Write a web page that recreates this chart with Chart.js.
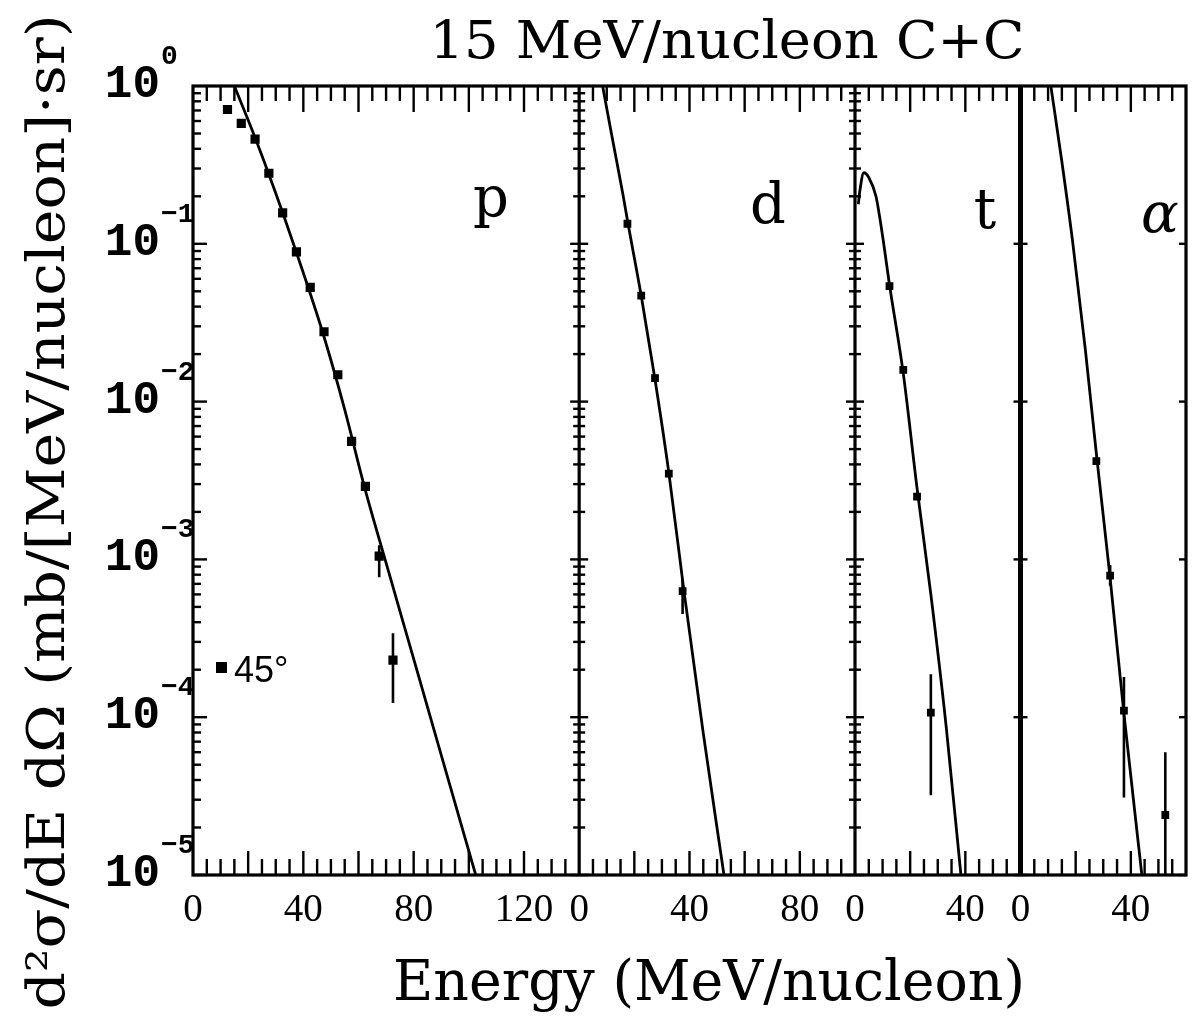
<!DOCTYPE html>
<html>
<head>
<meta charset="utf-8"/>
<title>15 MeV/nucleon C+C</title>
<script src="https://cdn.jsdelivr.net/npm/chart.js@4.4.1/dist/chart.umd.min.js"></script>
<style>
  html, body { margin: 0; padding: 0; background: #fff; }
  #chart { display: block; }
</style>
</head>
<body>
<canvas id="chart" width="1204" height="1024"></canvas>
<script>
// values: E in MeV/nucleon, y in mb/[MeV/nucleon]/sr

// protons
var pE = [12.5, 17.5, 22.5, 27.5, 32.5, 37.5, 42.5, 47.5, 52.5, 57.5, 62.5, 67.5, 72.5];
var pV = [0.71, 0.58, 0.46, 0.28, 0.157, 0.089, 0.053, 0.0277, 0.0148, 0.0056, 0.0029, 0.00105, 0.00023];
var pErrE = [67.5, 72.5];
var pErrLo = [7.7e-4, 1.23e-4];
var pErrHi = [1.23e-3, 3.4e-4];
var pFitE = [15, 22.8, 30, 37.4, 47, 55, 62, 70, 80, 90, 102.5];
var pFitV = [1.0, 0.457, 0.209, 0.089, 0.0275, 0.0089, 0.00295, 9.5e-4, 2.34e-4, 5.75e-5, 1e-5];

// deuterons
var dE = [17.5, 22.5, 27.5, 32.5, 37.5];
var dV = [0.134, 0.047, 0.0141, 0.0035, 6.3e-4];
var dErrE = [37.5];
var dErrLo = [4.5e-4];
var dErrHi = [7.4e-4];
var dFitE = [8.5, 12, 15.9, 17.5, 22.5, 27.5, 32.5, 38, 45, 52.5];
var dFitV = [1.0, 0.468, 0.204, 0.141, 0.0468, 0.0138, 0.00355, 6.3e-4, 7.9e-5, 1e-5];

// tritons
var tE = [12.5, 17.5, 22.5, 27.5];
var tV = [0.054, 0.0159, 0.0025, 1.07e-4];
var tErrE = [27.5];
var tErrLo = [3.2e-5];
var tErrHi = [1.87e-4];
var tFitE = [1.2, 1.8, 3.2, 5, 7.6, 10, 12.5, 17.5, 22.5, 27.5, 33, 38.4];
var tFitV = [0.178, 0.219, 0.282, 0.263, 0.2, 0.112, 0.055, 0.0151, 0.00282, 6.0e-4, 8.9e-5, 1e-5];

// alphas
var aE = [27.5, 32.5, 37.5, 52.5];
var aV = [0.0042, 7.9e-4, 1.1e-4, 2.4e-5];
var aErrE = [32.5, 37.5, 52.5];
var aErrLo = [6.8e-4, 3.1e-5, 5e-6];
var aErrHi = [9.2e-4, 1.8e-4, 6e-5];
var aFitE = [11, 15, 19, 23.5, 27.5, 32.5, 37.5, 44];
var aFitV = [1.0, 0.331, 0.1, 0.0214, 0.00468, 7.6e-4, 1.05e-4, 1e-5];

// axes
var panelIds = ['xp', 'xd', 'xt', 'xa'];
var panelMax = [140, 100, 60, 60];
var panelTickLabels = [[0, 40, 80, 120], [0, 40, 80], [0, 40], [0, 40]];
var panelNames = ['p', 'd', 't', 'α'];
var yExponents = [0, -1, -2, -3, -4, -5];

function pts(E, V) {
  return E.map(function(e, i) { return {x: e, y: V[i]}; });
}

var datasets = [];
function addPanel(id, fitE, fitV, E, V, errE, errLo, errHi, r) {
  datasets.push({
    xAxisID: id, yAxisID: 'y', data: pts(fitE, fitV), showLine: true,
    pointRadius: 0, borderColor: '#000', borderWidth: 2.8, cubicInterpolationMode: 'monotone'
  });
  errE.forEach(function(e, i) {
    datasets.push({
      xAxisID: id, yAxisID: 'y', data: [{x: e, y: errLo[i]}, {x: e, y: errHi[i]}],
      showLine: true, pointRadius: 0, borderColor: '#000', borderWidth: 2.6
    });
  });
  datasets.push({
    xAxisID: id, yAxisID: 'y', data: pts(E, V), showLine: false,
    pointStyle: 'rect', pointRadius: r, backgroundColor: '#000', borderWidth: 0
  });
}
addPanel('xp', pFitE, pFitV, pE, pV, pErrE, pErrLo, pErrHi, 6.5);
addPanel('xd', dFitE, dFitV, dE, dV, dErrE, dErrLo, dErrHi, 5.5);
addPanel('xt', tFitE, tFitV, tE, tV, tErrE, tErrLo, tErrHi, 5.5);
addPanel('xa', aFitE, aFitV, aE, aV, aErrE, aErrLo, aErrHi, 5.5);

var scales = {};
panelIds.forEach(function(id, i) {
  scales[id] = {
    type: 'linear', position: 'bottom', min: 0, max: panelMax[i],
    stack: 'energy', stackWeight: panelMax[i],
    grid: {display: false, drawTicks: false}, border: {display: false},
    afterFit: function(s) { s.height = 60; },
    afterBuildTicks: function(s) {
      s.ticks = panelTickLabels[i].map(function(v) { return {value: v}; });
    },
    ticks: {
      autoSkip: false, maxRotation: 0, padding: 12,
      color: '#000', font: {family: 'Liberation Serif', size: 39},
      callback: function(v) { return String(v); }
    }
  };
});
scales.y = {
  type: 'logarithmic', position: 'left', min: 1e-5, max: 1,
  grid: {display: false}, border: {display: false}, ticks: {display: false},
  afterFit: function(s) { s.width = 0; }
};

function fitText(ctx, text, x, y, w, font, rot) {
  ctx.save();
  ctx.font = font;
  var m = ctx.measureText(text).width;
  ctx.translate(x, y);
  if (rot) ctx.rotate(rot);
  ctx.scale(w / m, 1);
  ctx.textAlign = 'center';
  ctx.textBaseline = 'alphabetic';
  ctx.fillText(text, 0, 0);
  ctx.restore();
}

function yTicks(ctx, y, x, left, right, big, small, decadeOnly) {
  for (var k = -5; k < 0; k++) {
    for (var m = 1; m <= 9; m++) {
      if (m > 1 && decadeOnly) continue;
      var py = y.getPixelForValue(m * Math.pow(10, k));
      var len = m === 1 ? big : small;
      ctx.beginPath();
      ctx.moveTo(x - len * left, py);
      ctx.lineTo(x + len * right, py);
      ctx.stroke();
    }
  }
}

var frame = {
  id: 'frame',
  afterDraw: function(chart) {
    var ctx = chart.ctx, a = chart.chartArea, y = chart.scales.y;
    ctx.save();
    ctx.strokeStyle = '#000';
    ctx.fillStyle = '#000';

    // energy ticks, pointing inward at top and bottom
    ctx.lineWidth = 2.4;
    panelIds.forEach(function(id) {
      var s = chart.scales[id];
      for (var v = 5; v < s.max; v += 5) {
        var px = s.getPixelForValue(v);
        var major = v % 20 === 0;
        ctx.beginPath();
        ctx.moveTo(px, a.bottom); ctx.lineTo(px, a.bottom - (major ? 24 : 16));
        ctx.moveTo(px, a.top); ctx.lineTo(px, a.top + (major ? 26 : 15));
        ctx.stroke();
      }
    });

    // log ticks on panel edges
    var xp = chart.scales.xp, xd = chart.scales.xd, xt = chart.scales.xt, xa = chart.scales.xa;
    yTicks(ctx, y, xp.left, 0, 1, 14, 8, false);
    yTicks(ctx, y, xd.left, 1, 1, 9, 6, false);
    yTicks(ctx, y, xt.left, 1, 1, 9, 6, false);
    yTicks(ctx, y, xa.left, 1, 1, 7, 0, true);
    yTicks(ctx, y, xa.right, 1, 0, 7, 0, true);

    // frame
    ctx.lineWidth = 3.2;
    ctx.strokeRect(a.left, a.top, a.right - a.left, a.bottom - a.top);
    [xd.left, xt.left].forEach(function(px) {
      ctx.beginPath(); ctx.moveTo(px, a.top); ctx.lineTo(px, a.bottom); ctx.stroke();
    });
    ctx.lineWidth = 5;
    ctx.beginPath(); ctx.moveTo(xa.left, a.top); ctx.lineTo(xa.left, a.bottom); ctx.stroke();

    // y tick labels 10^n
    yExponents.forEach(function(e) {
      var py = y.getPixelForValue(Math.pow(10, e));
      ctx.font = 'bold 46px "Liberation Mono"';
      ctx.textAlign = 'right';
      ctx.textBaseline = 'alphabetic';
      ctx.fillText('10', 160, py + 11);
      ctx.font = 'bold 28px "Liberation Mono"';
      ctx.textAlign = 'left';
      ctx.fillText(e === 0 ? '0' : '\u2212' + (-e), 161, py - 22);
    });

    // panel labels
    ctx.textAlign = 'center';
    ctx.font = '56px "DejaVu Serif"';
    ctx.fillText(panelNames[0], 491, 216);
    ctx.fillText(panelNames[1], 768, 223);
    ctx.fillText(panelNames[2], 985, 228);
    ctx.font = 'italic 56px "DejaVu Serif"';
    ctx.fillText(panelNames[3], 1160, 232);

    // legend
    ctx.fillRect(216, 662, 11, 11);
    ctx.textAlign = 'left';
    ctx.font = '36px "Liberation Sans"';
    ctx.fillText('45°', 234, 682);

    // titles
    fitText(ctx, '15 MeV/nucleon C+C', 727, 58, 595, '52px "DejaVu Serif"', 0);
    fitText(ctx, 'Energy (MeV/nucleon)', 709, 1000, 632, '56px "DejaVu Serif"', 0);
    fitText(ctx, 'd\u00B2\u03C3/dE d\u03A9 (mb/[MeV/nucleon]\u00B7sr)', 64, 512, 995, '52px "DejaVu Serif"', -Math.PI / 2);
    ctx.restore();
  }
};

var chart = new Chart(document.getElementById('chart'), {
  type: 'scatter',
  data: {datasets: datasets},
  options: {
    responsive: false,
    animation: false,
    devicePixelRatio: 1,
    events: [],
    layout: {padding: {left: 193, right: 18, top: 86, bottom: 89}},
    plugins: {legend: {display: false}, tooltip: {enabled: false}},
    scales: scales
  },
  plugins: [frame]
});
</script>
</body>
</html>
